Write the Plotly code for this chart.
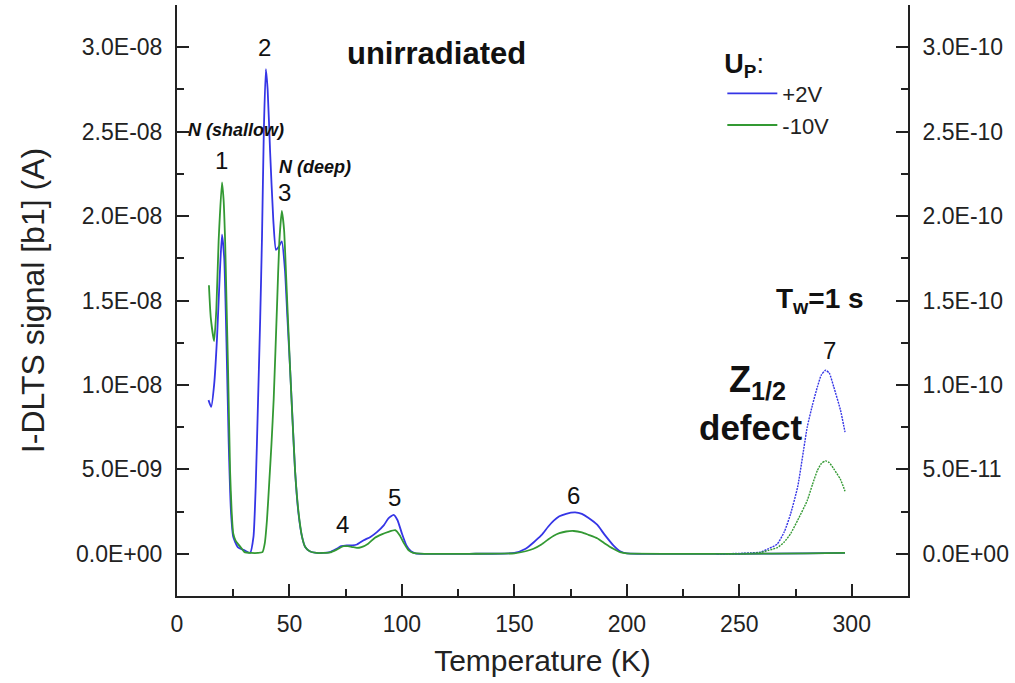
import plotly.graph_objects as go

# ---------------- data (signal in units of A) ----------------
# +2V, left axis
t_pos = [14, 15.2, 16.5, 17.8, 19, 20, 21, 22, 23, 24, 25, 27, 30, 32.5, 34, 35, 36, 37, 37.8, 38.6,
         39.5, 40.3, 41.4, 42.8, 44, 45.3, 46.6, 48, 49, 50.3, 51.5, 52.5, 54, 55.6, 57, 59, 62, 65,
         68, 71, 73, 75.5, 78, 80, 83, 86, 89, 92, 94, 96.3, 98, 100, 102, 104, 106, 110, 130, 150,
         155, 158.5, 162, 165, 167.5, 170, 173, 177, 180, 183, 186.8, 190, 194, 197, 200, 220, 250,
         280, 297]
s_pos = [9.1, 8.7, 10.0, 12.8, 16.5, 18.9, 17.5, 12.5, 6.5, 2.5, 1.0, 0.4, 0.2, 0.05, 1.0, 4.0, 8.9,
         14.0, 18.8, 25.0, 28.7, 27.5, 23.8, 19.8, 18.0, 18.2, 18.5, 16.8, 14.2, 10.9, 7.6, 4.9, 2.4,
         1.0, 0.4, 0.15, 0.05, 0.05, 0.1, 0.3, 0.45, 0.5, 0.5, 0.55, 0.8, 1.0, 1.3, 1.7, 2.1, 2.3, 2.0,
         1.2, 0.5, 0.15, 0.03, 0.0, 0.0, 0.05, 0.3, 0.67, 1.1, 1.6, 1.96, 2.22, 2.37, 2.45, 2.36, 2.12,
         1.72, 1.15, 0.5, 0.15, 0.03, 0.0, 0.0, 0.02, 0.05]
s_pos = [v * 1e-9 for v in s_pos]

# -10V, left axis
t_neg = [14.2, 15, 16.5, 17.5, 18.5, 20, 20.7, 21.4, 22, 22.7, 23.6, 24.3, 25, 26, 27, 28.8, 30, 33,
         36, 38, 39, 40, 41, 42, 43, 44.5, 45.5, 46.6, 47.6, 48.5, 50.3, 52.5, 54, 55.6, 57, 59, 62,
         65, 68, 71, 74, 76, 78, 80, 82, 85, 88, 91, 94, 97, 99, 101, 103, 105, 110, 130, 150, 155,
         158.5, 162, 165, 167.5, 170, 173, 176.4, 180, 183, 186.8, 190, 194, 197, 200, 220, 250, 280,
         297]
s_neg = [15.9, 14.0, 12.6, 14.5, 18.5, 22.0, 21.0, 18.5, 15.0, 10.9, 4.9, 2.5, 1.2, 0.8, 0.6, 0.3,
         0.1, 0.05, 0.05, 0.1, 0.6, 2.0, 4.2, 6.5, 9.2, 14.8, 18.5, 20.3, 19.2, 16.5, 10.9, 4.9, 2.5,
         1.0, 0.4, 0.15, 0.05, 0.05, 0.08, 0.25, 0.45, 0.45, 0.4, 0.35, 0.4, 0.6, 0.95, 1.15, 1.3, 1.4,
         1.1, 0.6, 0.2, 0.05, 0.0, 0.0, 0.03, 0.15, 0.3, 0.55, 0.85, 1.07, 1.22, 1.32, 1.35, 1.27, 1.12,
         0.92, 0.63, 0.3, 0.1, 0.02, 0.0, 0.0, 0.03, 0.05]
s_neg = [v * 1e-9 for v in s_neg]

# peak 7 (right axis)
t_7 = [240, 250, 255, 259.5, 263, 266.9, 270, 272.8, 276, 280.2, 282.5, 284.7, 286.5, 288.4, 290, 292,
       295, 297]
s_pos7 = [0.0, 0.02, 0.05, 0.1, 0.3, 0.58, 1.3, 2.36, 4.0, 7.5, 8.8, 9.88, 10.6, 10.87, 10.7, 9.88,
          8.5, 7.2]
s_neg7 = [0.0, 0.01, 0.03, 0.08, 0.2, 0.37, 0.7, 1.19, 2.0, 3.15, 4.1, 4.93, 5.35, 5.5, 5.4, 5.03,
          4.4, 3.7]
s_pos7 = [v * 1e-11 for v in s_pos7]
s_neg7 = [v * 1e-11 for v in s_neg7]

x_ticks = [0, 50, 100, 150, 200, 250, 300]
y_ticks = [0, 5e-9, 1e-8, 1.5e-8, 2e-8, 2.5e-8, 3e-8]
y_labels = ["0.0E+00", "5.0E-09", "1.0E-08", "1.5E-08", "2.0E-08", "2.5E-08", "3.0E-08"]
y2_ticks = [0, 5e-11, 1e-10, 1.5e-10, 2e-10, 2.5e-10, 3e-10]
y2_labels = ["0.0E+00", "5.0E-11", "1.0E-10", "1.5E-10", "2.0E-10", "2.5E-10", "3.0E-10"]

BLUE = "#3535e6"
GREEN = "#339933"
AX = "#222222"
FONT = "Liberation Sans, Arial, sans-serif"

fig = go.Figure()
fig.add_trace(go.Scatter(x=t_pos, y=s_pos, mode="lines", name="+2V",
                         line=dict(color=BLUE, width=1.8, shape="spline", smoothing=0.5)))
fig.add_trace(go.Scatter(x=t_neg, y=s_neg, mode="lines", name="-10V",
                         line=dict(color=GREEN, width=1.8, shape="spline", smoothing=0.5)))
fig.add_trace(go.Scatter(x=t_7, y=s_pos7, mode="lines", yaxis="y2", showlegend=False,
                         line=dict(color=BLUE, width=1.4, dash="2px,1px", shape="spline", smoothing=0.5)))
fig.add_trace(go.Scatter(x=t_7, y=s_neg7, mode="lines", yaxis="y2", showlegend=False,
                         line=dict(color=GREEN, width=1.4, dash="2px,1px", shape="spline", smoothing=0.5)))

tickfont = dict(family=FONT, size=23, color="#222")

fig.update_layout(
    width=1015, height=683,
    margin=dict(l=177, r=107, t=5, b=87),
    paper_bgcolor="white", plot_bgcolor="white",
    font=dict(family=FONT, color="#111"),
    xaxis=dict(range=[0, 325], tickmode="array", tickvals=x_ticks,
               ticks="inside", ticklen=12, tickwidth=2, tickcolor=AX,
               showline=True, linewidth=2, linecolor=AX, showgrid=False, zeroline=False,
               tickfont=tickfont, ticklabelstandoff=6,
               minor=dict(dtick=25, tick0=0, ticks="inside", ticklen=7, tickwidth=2, tickcolor=AX),
               title=dict(text="Temperature (K)", font=dict(family=FONT, size=30, color="#222"),
                          standoff=14)),
    yaxis=dict(range=[-2.5e-9, 3.25e-8], tickmode="array", tickvals=y_ticks, ticktext=y_labels,
               ticks="inside", ticklen=12, tickwidth=2, tickcolor=AX,
               showline=True, linewidth=2, linecolor=AX, showgrid=False, zeroline=False,
               tickfont=tickfont, ticklabelstandoff=8,
               minor=dict(dtick=2.5e-9, tick0=0, ticks="inside", ticklen=7, tickwidth=2, tickcolor=AX),
               title=dict(text="I-DLTS signal [b1] (A)", font=dict(family=FONT, size=32, color="#222"),
                          standoff=22)),
    yaxis2=dict(range=[-2.5e-11, 3.25e-10], overlaying="y", side="right", tickmode="array",
                tickvals=y2_ticks, ticktext=y2_labels,
                ticks="inside", ticklen=12, tickwidth=2, tickcolor=AX,
                showline=True, linewidth=2, linecolor=AX, showgrid=False, zeroline=False,
                tickfont=tickfont, ticklabelstandoff=8,
                minor=dict(dtick=2.5e-11, tick0=0, ticks="inside", ticklen=7, tickwidth=2, tickcolor=AX)),
    legend=dict(x=0.746, y=0.945, xanchor="left", yanchor="top", bgcolor="rgba(0,0,0,0)",
                font=dict(family=FONT, size=22, color="#222"),
                title=dict(text="<b>U<sub>P</sub></b>:", font=dict(family=FONT, size=27, color="#111")),
                itemwidth=50, tracegroupgap=0),
)

def ann(text, x, y, size, bold=False, italic=False):
    t = text
    if bold:
        t = "<b>" + t + "</b>"
    if italic:
        t = "<i>" + t + "</i>"
    fig.add_annotation(x=x, y=y, xref="x", yref="y", text=t, showarrow=False,
                       font=dict(family=FONT, size=size, color="#111"),
                       xanchor="center", yanchor="middle")

ann("1", 19.6, 23.3e-9, 24)
ann("2", 39.1, 30.0e-9, 24)
ann("3", 47.6, 21.4e-9, 24)
ann("4", 73.8, 1.72e-9, 24)
ann("5", 96.5, 3.33e-9, 24)
ann("6", 176.1, 3.44e-9, 24)
ann("7", 289.9, 12.06e-9, 24)
ann("N (shallow)", 26.2, 25.1e-9, 18, bold=True, italic=True)
ann("N (deep)", 61.4, 22.9e-9, 18, bold=True, italic=True)
ann("unirradiated", 115.2, 29.6e-9, 31, bold=True)
ann("T<sub>w</sub>=1 s", 285.9, 15.0e-9, 28, bold=True)
ann("Z<sub>1/2</sub>", 258.3, 10.2e-9, 36, bold=True)
ann("defect", 254.8, 7.5e-9, 35, bold=True)

fig.write_html("out.html")
